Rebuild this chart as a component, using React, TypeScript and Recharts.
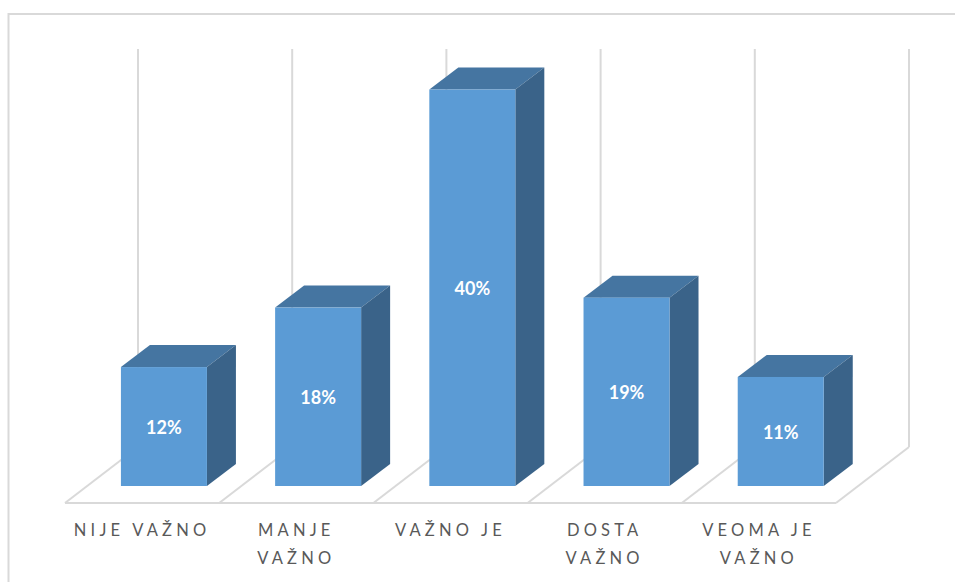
import React from "react";
import { BarChart, Bar, XAxis, YAxis, LabelList, usePlotArea } from "recharts";

const categories = ["NIJE VAŽNO", "MANJE VAŽNO", "VAŽNO JE", "DOSTA VAŽNO", "VEOMA JE VAŽNO"];
const tickLines = [["NIJE VAŽNO"], ["MANJE", "VAŽNO"], ["VAŽNO JE"], ["DOSTA", "VAŽNO"], ["VEOMA JE", "VAŽNO"]];
const values = [12, 18, 40, 19, 11];

const rows = categories.map((name, i) => ({ name, value: values[i] }));

const FONT = "Lato, 'Open Sans', sans-serif";
const GRID = "#D9D9D9";
const DX = 29;
const DY = 22;

function Floor() {
  const plot = usePlotArea();
  if (!plot) return null;
  const band = plot.width / categories.length;
  const baseY = plot.y + plot.height;
  const front = baseY + 17;
  const back = baseY - 39;
  const frontX = (i: number) => plot.x + band * i - 22;
  const backX = (i: number) => plot.x + band * i + 51;
  const edges = [0, 1, 2, 3, 4, 5];
  return (
    <g stroke={GRID} strokeWidth={2} fill="none">
      {edges.map((i) => (
        <line key={"w" + i} x1={backX(i)} y1={49} x2={backX(i)} y2={back} />
      ))}
      {edges.map((i) => (
        <line key={"f" + i} x1={frontX(i)} y1={front} x2={backX(i)} y2={back} />
      ))}
      <line x1={frontX(0)} y1={front} x2={frontX(5)} y2={front} />
    </g>
  );
}

function Box3D(props: any) {
  const { x, y, width, height } = props;
  const r = x + width;
  const b = y + height;
  return (
    <g>
      <polygon points={`${x},${y} ${x + DX},${y - DY} ${r + DX},${y - DY} ${r},${y}`} fill="#4575A1" />
      <polygon points={`${r},${y} ${r + DX},${y - DY} ${r + DX},${b - DY} ${r},${b}`} fill="#3A6389" />
      <rect x={x} y={y} width={width} height={height} fill="#5B9BD5" />
    </g>
  );
}

function CategoryTick(props: any) {
  const { x, y, index } = props;
  const lines = tickLines[index] || [];
  return (
    <g>
      {lines.map((line, i) => (
        <text
          key={i}
          x={x - 22}
          y={y + 44 + 28 * i}
          textAnchor="middle"
          fontFamily={FONT}
          fontSize={16.5}
          letterSpacing={4.2}
          fill="#595959"
        >
          {line}
        </text>
      ))}
    </g>
  );
}

export default function App() {
  return (
    <div style={{ position: "absolute", left: 0, top: 0, width: 955, height: 582, background: "#fff", overflow: "hidden" }}>
      <svg width={955} height={582} style={{ position: "absolute", left: 0, top: 0 }}>
        <path d="M955 14 H8.5 V582" fill="none" stroke={GRID} strokeWidth={2} />
      </svg>
      <div style={{ position: "absolute", left: 0, top: 0 }}>
        <BarChart
          width={955}
          height={582}
          data={rows}
          margin={{ top: 40, right: 97, bottom: 0, left: 87 }}
          barCategoryGap="22%"
        >
          <Floor />
          <XAxis
            dataKey="name"
            axisLine={false}
            tickLine={false}
            height={96}
            interval={0}
            tickMargin={0}
            tick={<CategoryTick />}
          />
          <YAxis hide domain={[0, 45]} width={0} />
          <Bar dataKey="value" shape={<Box3D />} isAnimationActive={false}>
            <LabelList
              dataKey="value"
              position="center"
              offset={0}
              dy={1}
              formatter={(v: number) => v + "%"}
              fill="#FFFFFF"
              fontFamily={FONT}
              fontSize={18}
              fontWeight={700}
            />
          </Bar>
        </BarChart>
      </div>
    </div>
  );
}
